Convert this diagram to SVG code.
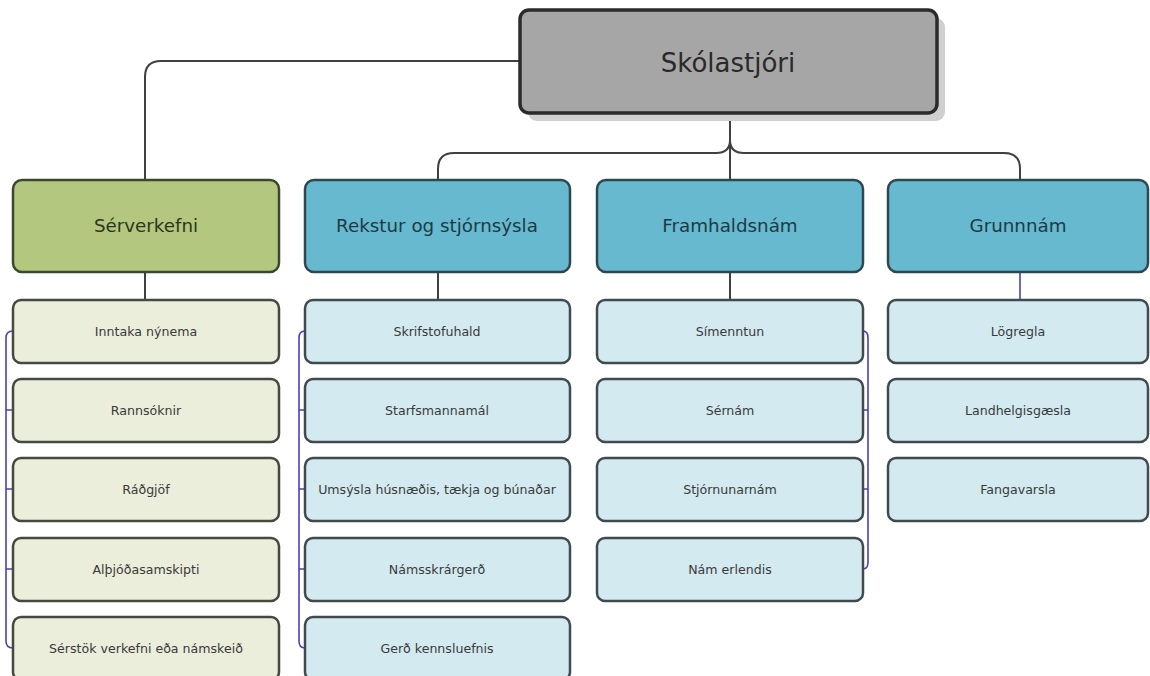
<svg xmlns="http://www.w3.org/2000/svg" width="1150" height="676" viewBox="0 0 1150 676">
<style>
text{font-family:"DejaVu Sans","Liberation Sans",sans-serif;text-anchor:middle}
.top{fill:#a6a6a6;stroke:#2b2b2b;stroke-width:3.5}
.sh{fill:#cfcfcf}
.green{fill:#b4c77e;stroke:#3c4730;stroke-width:2.5}
.blue{fill:#67b9cf;stroke:#2f4750;stroke-width:2.5}
.cg{fill:#ebeedb;stroke:#454a40;stroke-width:2.5}
.cb{fill:#d3eaf0;stroke:#414a4e;stroke-width:2.5}
.t1{font-size:26px;fill:#2a2a2a}
.t2{font-size:18.3px;fill:#1f3a44}
.t2g{font-size:18.3px;fill:#2c3620}
.t3{font-size:12.6px;fill:#3a3a3a}
.ln{fill:none;stroke:#404040;stroke-width:2}
.pl{fill:none;stroke:#4a40bd;stroke-width:1.6}
</style>
<g id="connectors">
<path class="ln" d="M520,61 H161 Q145,61 145,77 V180"/>
<path class="ln" d="M730,113 V180"/>
<path class="ln" d="M730,140 Q730,153 716,153 H454 Q438,153 438,169 V180"/>
<path class="ln" d="M730,140 Q730,153 744,153 H1004 Q1020,153 1020,169 V180"/>
<path class="ln" d="M145,272 V300"/>
<path class="ln" d="M438,272 V300"/>
<path class="ln" d="M730,272 V300"/>
<path class="pl" d="M1020,272 V300"/>
<path class="pl" d="M13,331 Q6,331 6,338 V641 Q6,648 13,648 M6,410 H13 M6,489 H13 M6,569 H13"/>
<path class="pl" d="M305,331 Q299,331 299,338 V641 Q299,648 305,648 M299,410 H305 M299,489 H305 M299,569 H305"/>
<path class="pl" d="M863,331 Q868,331 868,338 V562 Q868,569 863,569 M868,410 H863 M868,489 H863"/>
</g>
<g id="n-skolastjori">
<rect class="sh" x="528" y="18" width="417" height="103" rx="9"/>
<rect class="top" x="520" y="10" width="417" height="103" rx="9"/>
<text class="t1" x="728" y="72">Skólastjóri</text>
</g>
<g id="n-serverkefni">
<rect class="green" x="13" y="180" width="266" height="92" rx="9"/>
<text class="t2g" x="146" y="232">Sérverkefni</text>
</g>
<g id="n-rekstur">
<rect class="blue" x="305" y="180" width="265" height="92" rx="9"/>
<text class="t2" x="437" y="232">Rekstur og stjórnsýsla</text>
</g>
<g id="n-framhaldsnam">
<rect class="blue" x="597" y="180" width="266" height="92" rx="9"/>
<text class="t2" x="730" y="232">Framhaldsnám</text>
</g>
<g id="n-grunnnam">
<rect class="blue" x="888" y="180" width="260" height="92" rx="9"/>
<text class="t2" x="1018" y="232">Grunnnám</text>
</g>
<g id="n-inntaka"><rect class="cg" x="13" y="300" width="266" height="63" rx="8"/><text class="t3" x="146" y="336">Inntaka nýnema</text></g>
<g id="n-rannsoknir"><rect class="cg" x="13" y="379" width="266" height="63" rx="8"/><text class="t3" x="146" y="415">Rannsóknir</text></g>
<g id="n-radgjof"><rect class="cg" x="13" y="458" width="266" height="63" rx="8"/><text class="t3" x="146" y="494">Ráðgjöf</text></g>
<g id="n-althjoda"><rect class="cg" x="13" y="538" width="266" height="63" rx="8"/><text class="t3" x="146" y="574">Alþjóðasamskipti</text></g>
<g id="n-serstok"><rect class="cg" x="13" y="617" width="266" height="63" rx="8"/><text class="t3" x="146" y="653">Sérstök verkefni eða námskeið</text></g>
<g id="n-skrifstofuhald"><rect class="cb" x="305" y="300" width="265" height="63" rx="8"/><text class="t3" x="437" y="336">Skrifstofuhald</text></g>
<g id="n-starfsmannamal"><rect class="cb" x="305" y="379" width="265" height="63" rx="8"/><text class="t3" x="437" y="415">Starfsmannamál</text></g>
<g id="n-umsysla"><rect class="cb" x="305" y="458" width="265" height="63" rx="8"/><text class="t3" x="437" y="494">Umsýsla húsnæðis, tækja og búnaðar</text></g>
<g id="n-namsskrargerd"><rect class="cb" x="305" y="538" width="265" height="63" rx="8"/><text class="t3" x="437" y="574">Námsskrárgerð</text></g>
<g id="n-gerd"><rect class="cb" x="305" y="617" width="265" height="63" rx="8"/><text class="t3" x="437" y="653">Gerð kennsluefnis</text></g>
<g id="n-simenntun"><rect class="cb" x="597" y="300" width="266" height="63" rx="8"/><text class="t3" x="730" y="336">Símenntun</text></g>
<g id="n-sernam"><rect class="cb" x="597" y="379" width="266" height="63" rx="8"/><text class="t3" x="730" y="415">Sérnám</text></g>
<g id="n-stjornunarnam"><rect class="cb" x="597" y="458" width="266" height="63" rx="8"/><text class="t3" x="730" y="494">Stjórnunarnám</text></g>
<g id="n-nam-erlendis"><rect class="cb" x="597" y="538" width="266" height="63" rx="8"/><text class="t3" x="730" y="574">Nám erlendis</text></g>
<g id="n-logregla"><rect class="cb" x="888" y="300" width="260" height="63" rx="8"/><text class="t3" x="1018" y="336">Lögregla</text></g>
<g id="n-landhelgisgaesla"><rect class="cb" x="888" y="379" width="260" height="63" rx="8"/><text class="t3" x="1018" y="415">Landhelgisgæsla</text></g>
<g id="n-fangavarsla"><rect class="cb" x="888" y="458" width="260" height="63" rx="8"/><text class="t3" x="1018" y="494">Fangavarsla</text></g>
</svg>
